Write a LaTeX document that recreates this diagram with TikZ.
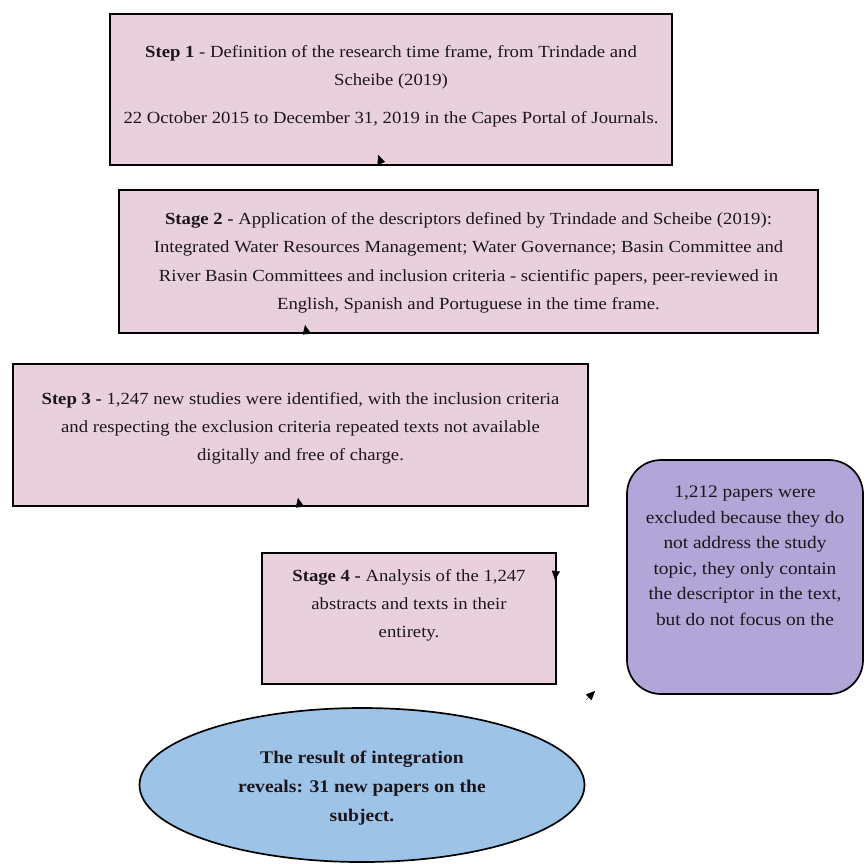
\documentclass[tikz,border=0pt]{standalone}
\usepackage{fontspec}
\setmainfont[FakeStretch=1.1]{Liberation Serif}
\usetikzlibrary{arrows.meta,shapes.geometric}
\definecolor{pinkfill}{RGB}{233,208,221}
\definecolor{purplefill}{RGB}{178,165,215}
\definecolor{bluefill}{RGB}{157,195,231}
\definecolor{ink}{RGB}{28,22,28}
\begin{document}
\begin{tikzpicture}[x=1pt,y=-1pt,
  pinkbox/.style={draw=black, line width=1.7pt, fill=pinkfill, rectangle, inner sep=0pt},
  purplebox/.style={draw=black, line width=1.7pt, fill=purplefill, rectangle, rounded corners=34pt, inner sep=0pt},
  blueoval/.style={draw=black, line width=1.7pt, fill=bluefill, ellipse, inner sep=0pt},
  txt/.style={align=center, text=ink, inner sep=0pt, font=\fontsize{17}{28}\selectfont},
  bigtxt/.style={align=center, text=ink, inner sep=0pt, font=\fontsize{17.6}{25.5}\selectfont},
  boldtxt/.style={align=center, text=ink, inner sep=0pt, font=\fontsize{17.8}{29}\selectfont\bfseries},
  tip/.style={-{Triangle[length=9pt,width=8pt]}, line width=0.3pt, black}]
\useasboundingbox (0,0) rectangle (866,863);

% boxes
\node[pinkbox, minimum width=562pt, minimum height=151pt] (s1) at (391,89.5) {};
\node[txt] (s1t) at (391,86) {\textbf{Step 1} - Definition of the research time frame, from Trindade and\\ Scheibe (2019)\\[10pt] 22 October 2015 to December 31, 2019 in the Capes Portal of Journals.};

\node[pinkbox, minimum width=699pt, minimum height=143pt] (s2) at (468.5,261.5) {};
\node[txt, font=\fontsize{17}{28.5}\selectfont] (s2t) at (468.5,263) {\textbf{Stage 2 -} Application of the descriptors defined by Trindade and Scheibe (2019):\\ Integrated Water Resources Management; Water Governance; Basin Committee and\\ River Basin Committees and inclusion criteria - scientific papers, peer-reviewed in\\ English, Spanish and Portuguese in the time frame.};

\node[pinkbox, minimum width=575pt, minimum height=142pt] (s3) at (300.5,435) {};
\node[txt] (s3t) at (300.5,428) {\textbf{Step 3 -} 1,247 new studies were identified, with the inclusion criteria\\ and respecting the exclusion criteria repeated texts not available\\ digitally and free of charge.};

\node[pinkbox, minimum width=294pt, minimum height=131pt] (s4) at (409,618.5) {};
\node[txt] (s4t) at (409,605) {\textbf{Stage 4 -} Analysis of the 1,247\\ abstracts and texts in their\\ entirety.};

\node[purplebox, minimum width=236pt, minimum height=234pt] (ex) at (745,577) {};
\node[bigtxt, anchor=north] (ext) at (745,486) {1,212 papers were\\ excluded because they do\\ not address the study\\ topic, they only contain\\ the descriptor in the text,\\ but do not focus on the};

\node[blueoval, minimum width=445pt, minimum height=154pt] (res) at (362,785) {};
\node[boldtxt] (rest) at (362,788) {The result of integration\\ reveals: 31 new papers on the\\ subject.};

% arrowheads (connector shafts not shown)
\coordinate (a1s) at (382,165);
\coordinate (a1e) at (378,155);
\coordinate (a2s) at (307,335);
\coordinate (a2e) at (305,325);
\coordinate (a3s) at (300,508);
\coordinate (a3e) at (298,498);
\coordinate (a4s) at (556,570);
\coordinate (a4e) at (555,580);
\coordinate (a5s) at (586,700);
\coordinate (a5e) at (595,691);
\draw[tip] (a1s) -- (a1e);
\draw[tip] (a2s) -- (a2e);
\draw[tip] (a3s) -- (a3e);
\draw[tip] (a4s) -- (a4e);
\draw[tip] (a5s) -- (a5e);
\end{tikzpicture}
\end{document}
